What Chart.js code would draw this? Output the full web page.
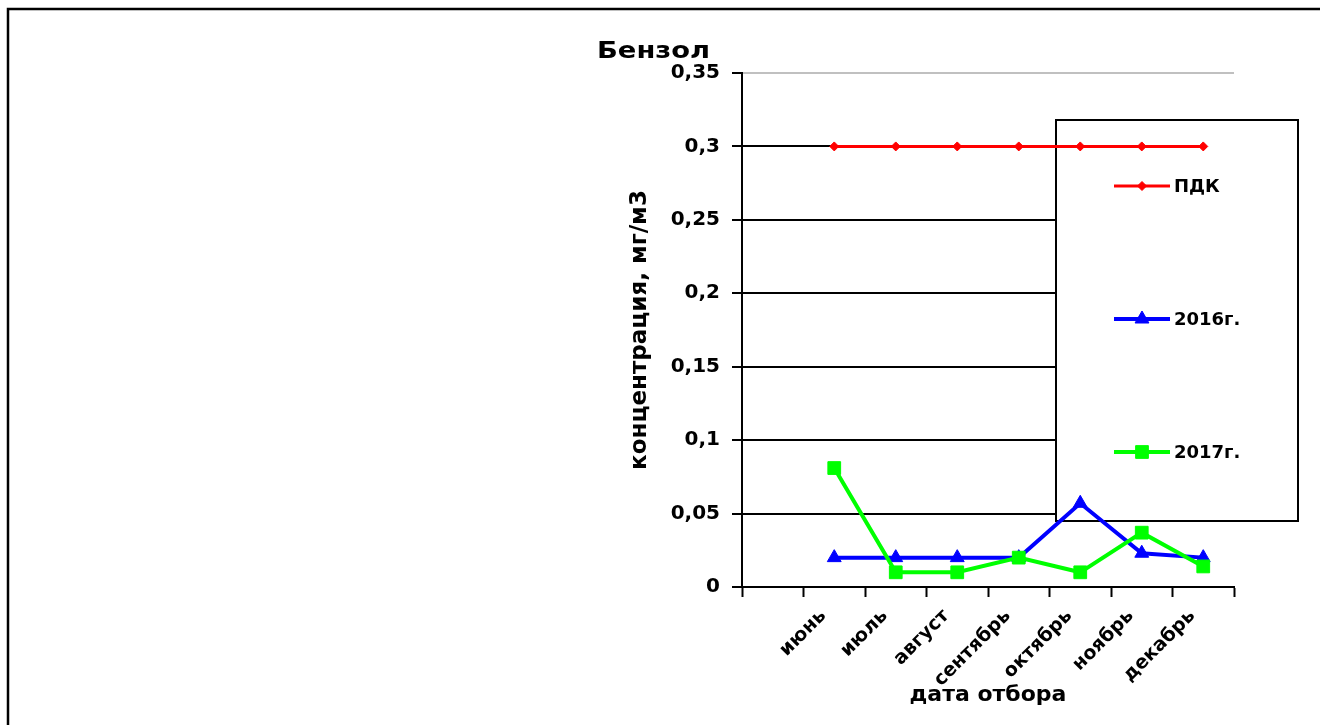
<!DOCTYPE html>
<html>
<head>
<meta charset="utf-8">
<script src="https://cdn.jsdelivr.net/npm/chart.js@4.4.1/dist/chart.umd.min.js"></script>
<style>
  html, body { margin: 0; padding: 0; background: #fff; }
</style>
</head>
<body>
<canvas id="chart" width="1320" height="725"></canvas>
<script>
const months = ["", "июнь", "июль", "август", "сентябрь", "октябрь", "ноябрь", "декабрь"];
const pdk = [null, 0.3, 0.3, 0.3, 0.3, 0.3, 0.3, 0.3];
const conc2016 = [null, 0.02, 0.02, 0.02, 0.02, 0.057, 0.023, 0.02];
const conc2017 = [null, 0.081, 0.01, 0.01, 0.02, 0.01, 0.037, 0.014];
const yTicks = [0, 0.05, 0.1, 0.15, 0.2, 0.25, 0.3, 0.35];

const FONT = "'DejaVu Sans', 'Liberation Sans', Arial, sans-serif";

// frame, title and the legend box (legend sits over the grid but under the lines)
const decor = {
  id: "decor",
  beforeDraw(chart) {
    const c = chart.ctx;
    c.save();
    c.strokeStyle = "#000";
    c.lineWidth = 2.5;
    c.strokeRect(8, 9, 1330, 740);
    c.restore();
  },
  beforeDatasetsDraw(chart) {
    const c = chart.ctx;
    c.save();
    c.fillStyle = "#fff";
    c.fillRect(1056, 120, 242, 401);
    c.strokeStyle = "#000";
    c.lineWidth = 2;
    c.strokeRect(1056, 120, 242, 401);

    const rows = [186, 319, 452];
    chart.data.datasets.forEach((ds, i) => {
      const y = rows[i];
      c.strokeStyle = ds.borderColor;
      c.fillStyle = ds.borderColor;
      c.lineWidth = ds.borderWidth;
      c.beginPath();
      c.moveTo(1114, y);
      c.lineTo(1170, y);
      c.stroke();
      c.lineWidth = 1;
      Chart.helpers.drawPoint(c, {
        pointStyle: ds.pointStyle,
        radius: ds.pointRadius,
        borderWidth: 1
      }, 1142, y);
      c.fillStyle = "#000";
      c.font = "bold 18px " + FONT;
      c.textBaseline = "middle";
      c.textAlign = "left";
      c.fillText(ds.label, 1174, y + 1);
    });
    c.restore();
  },
  afterDraw(chart) {
    const c = chart.ctx;
    c.save();
    c.fillStyle = "#000";
    c.font = "bold 23px " + FONT;
    c.textBaseline = "alphabetic";
    c.textAlign = "left";
    const w = c.measureText("Бензол").width;
    c.translate(597, 58);
    c.scale(113 / w, 1);
    c.fillText("Бензол", 0, 0);
    c.restore();
  }
};

const chart = new Chart(document.getElementById("chart"), {
  type: "line",
  data: {
    labels: months,
    datasets: [
      {
        label: "ПДК",
        data: pdk,
        borderColor: "#ff0000",
        backgroundColor: "#ff0000",
        borderWidth: 3,
        pointStyle: "rectRot",
        pointRadius: 4.5,
        pointBorderWidth: 1,
        order: 3
      },
      {
        label: "2016г.",
        data: conc2016,
        borderColor: "#0000ff",
        backgroundColor: "#0000ff",
        borderWidth: 4,
        pointStyle: "triangle",
        pointRadius: 8,
        pointBorderWidth: 1,
        order: 2
      },
      {
        label: "2017г.",
        data: conc2017,
        borderColor: "#00ff00",
        backgroundColor: "#00ff00",
        borderWidth: 4,
        pointStyle: "rect",
        pointRadius: 9,
        pointBorderWidth: 1,
        order: 1
      }
    ]
  },
  options: {
    responsive: false,
    animation: false,
    layout: { padding: { left: 620, right: 86, top: 73, bottom: 0 } },
    plugins: {
      legend: { display: false },
      title: { display: false },
      tooltip: { enabled: false }
    },
    scales: {
      x: {
        offset: true,
        afterFit(s) { s.height = 138; },
        grid: {
          offset: true,
          drawOnChartArea: false,
          drawTicks: true,
          tickLength: 10,
          tickColor: "#000",
          tickWidth: 2
        },
        border: { color: "#000", width: 2 },
        ticks: {
          color: "#000",
          font: { family: FONT, size: 19, weight: "bold" },
          minRotation: 45,
          maxRotation: 45,
          autoSkip: false,
          padding: 8,
          labelOffset: -11
        },
        title: {
          display: true,
          text: "дата отбора",
          color: "#000",
          font: { family: FONT, size: 22, weight: "bold" },
          padding: { top: 0, bottom: 17 }
        }
      },
      y: {
        min: 0,
        max: 0.35,
        afterFit(s) { s.width = 122; },
        afterBuildTicks(s) { s.ticks = yTicks.map(v => ({ value: v })); },
        grid: {
          color: ctx => (ctx.tick && ctx.tick.value === 0.35 ? "#c0c0c0" : "#000"),
          lineWidth: 2,
          tickLength: 10,
          tickColor: "#000",
          tickWidth: 2
        },
        border: { color: "#000", width: 2 },
        ticks: {
          color: "#000",
          font: { family: FONT, size: 20, weight: "bold" },
          padding: 12,
          callback: v => String(v).replace(".", ",")
        },
        title: {
          display: true,
          text: "концентрация, мг/м3",
          color: "#000",
          font: { family: FONT, size: 23, weight: "bold" },
          padding: { top: 6, bottom: 0 }
        }
      }
    },
    elements: {
      line: { tension: 0 }
    }
  },
  plugins: [decor]
});
</script>
</body>
</html>
